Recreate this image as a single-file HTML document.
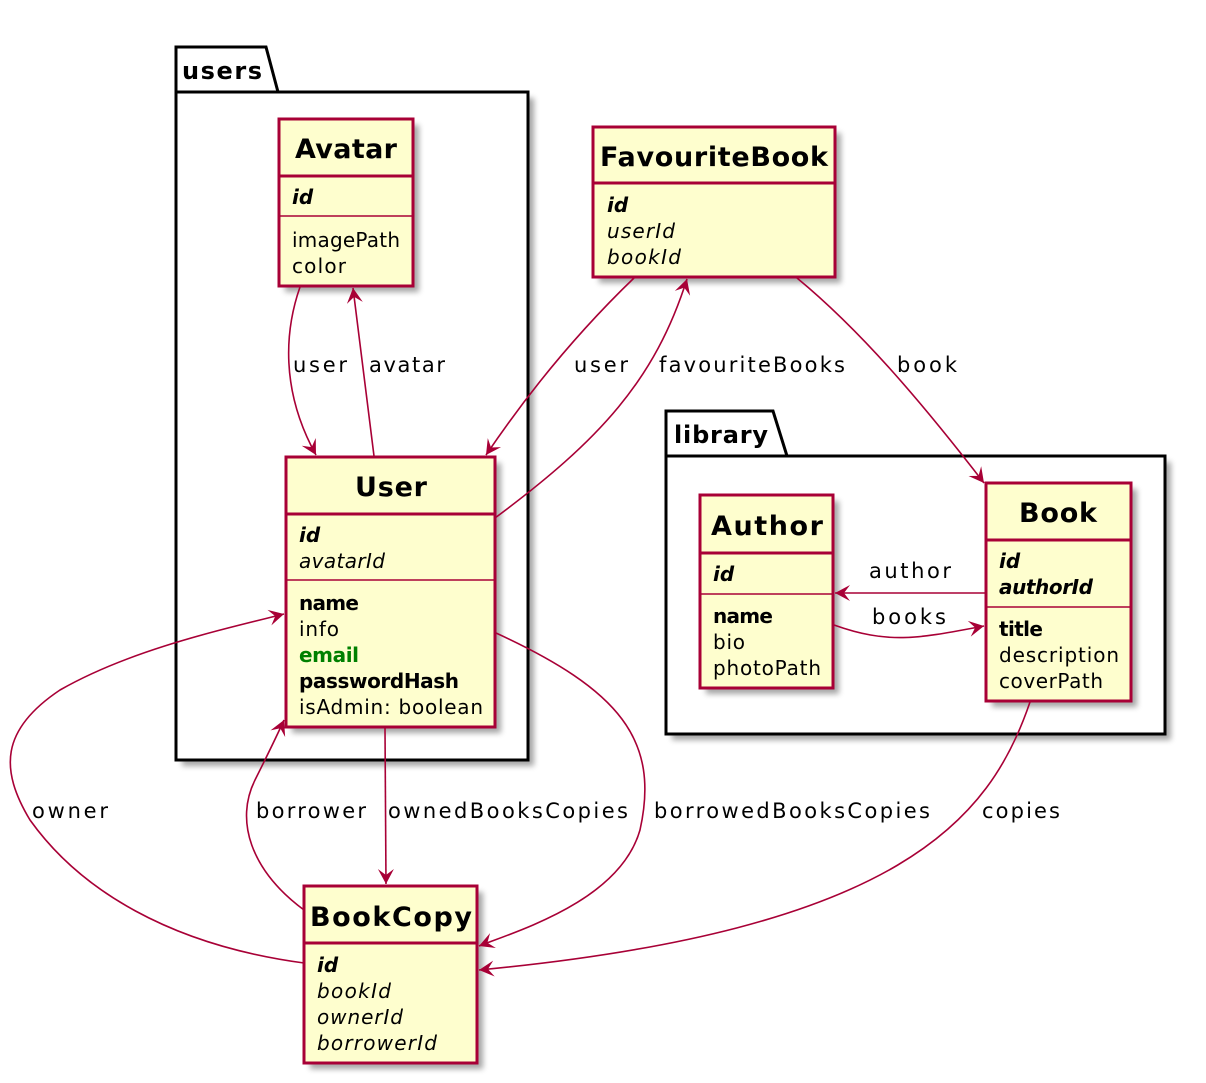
<!DOCTYPE html>
<html><head><meta charset="utf-8"><style>
html,body{margin:0;padding:0;background:#fff}
svg{display:block}
text{font-family:"DejaVu Sans","Liberation Sans",sans-serif;fill:#000}
.m{font-size:20px}
.t{font-size:27px;font-weight:bold}
.l{font-size:21px}
.c{fill:#FEFECE;stroke:#A80036;stroke-width:3}
.s{stroke:#A80036;stroke-width:1.5}
.e{fill:none;stroke:#A80036;stroke-width:1.6}
.p{fill:#fff;stroke:#000;stroke-width:3}
.sh{fill:#000;opacity:.35;filter:url(#b)}
</style></head><body>
<svg width="1206" height="1083" viewBox="0 0 1206 1083" xmlns="http://www.w3.org/2000/svg">
<defs>
<filter id="b" x="-10%" y="-10%" width="120%" height="120%"><feGaussianBlur stdDeviation="3"/></filter>
<marker id="a" viewBox="-16 -9 18 18" refX="0" refY="0" markerWidth="18" markerHeight="18" markerUnits="userSpaceOnUse" orient="auto">
<path d="M0,0 L-15,-8 L-9,0 L-15,8 Z" fill="#A80036"/>
</marker>
</defs>

<!-- package users -->
<rect class="sh" x="182" y="98" width="352" height="668"/>
<path class="p" d="M176,92 L176,47 L266,47 L278,92 L528,92 L528,760 L176,760 Z"/>
<line x1="176" y1="92" x2="278" y2="92" stroke="#000" stroke-width="3"/>
<text x="182" y="79" style="font-size:24px;font-weight:bold" textLength="80">users</text>

<!-- package library -->
<rect class="sh" x="672" y="462" width="499" height="278"/>
<path class="p" d="M666,456 L666,411 L773,411 L787,456 L1165,456 L1165,734 L666,734 Z"/>
<line x1="666" y1="456" x2="787" y2="456" stroke="#000" stroke-width="3"/>
<text x="674" y="443" style="font-size:24px;font-weight:bold" textLength="94">library</text>

<!-- Avatar -->
<rect class="sh" x="285" y="125" width="134" height="167"/>
<rect class="c" x="279" y="119" width="134" height="167"/>
<line class="s" x1="279" y1="176" x2="413" y2="176" style="stroke-width:3"/>
<line class="s" x1="279" y1="216" x2="413" y2="216"/>
<text class="t" x="346" y="158" text-anchor="middle" textLength="102">Avatar</text>
<text class="m" x="292" y="204" font-weight="bold" font-style="italic">id</text>
<text class="m" x="292" y="247" textLength="108">imagePath</text>
<text class="m" x="292" y="273" textLength="54">color</text>

<!-- FavouriteBook -->
<rect class="sh" x="599" y="133" width="242" height="150"/>
<rect class="c" x="593" y="127" width="242" height="150"/>
<line class="s" x1="593" y1="183" x2="835" y2="183" style="stroke-width:3"/>
<text class="t" x="714" y="166" text-anchor="middle" textLength="228">FavouriteBook</text>
<text class="m" x="607" y="212" font-weight="bold" font-style="italic">id</text>
<text class="m" x="607" y="238" font-style="italic" textLength="68">userId</text>
<text class="m" x="607" y="264" font-style="italic" textLength="74">bookId</text>

<!-- User -->
<rect class="sh" x="292" y="463" width="209" height="270"/>
<rect class="c" x="286" y="457" width="209" height="270"/>
<line class="s" x1="286" y1="514" x2="495" y2="514" style="stroke-width:3"/>
<line class="s" x1="286" y1="580" x2="495" y2="580"/>
<text class="t" x="391" y="496" text-anchor="middle" textLength="72">User</text>
<text class="m" x="299" y="542" font-weight="bold" font-style="italic">id</text>
<text class="m" x="299" y="568" font-style="italic" textLength="86">avatarId</text>
<text class="m" x="299" y="610" font-weight="bold" textLength="60">name</text>
<text class="m" x="299" y="636" textLength="40">info</text>
<text class="m" x="299" y="662" font-weight="bold" style="fill:#008000" textLength="60">email</text>
<text class="m" x="299" y="688" font-weight="bold" textLength="160">passwordHash</text>
<text class="m" x="299" y="714" textLength="184">isAdmin: boolean</text>

<!-- Author -->
<rect class="sh" x="706" y="501" width="133" height="193"/>
<rect class="c" x="700" y="495" width="133" height="193"/>
<line class="s" x1="700" y1="553" x2="833" y2="553" style="stroke-width:3"/>
<line class="s" x1="700" y1="594" x2="833" y2="594"/>
<text class="t" x="767" y="535" text-anchor="middle" textLength="112">Author</text>
<text class="m" x="713" y="581" font-weight="bold" font-style="italic">id</text>
<text class="m" x="713" y="623" font-weight="bold" textLength="60">name</text>
<text class="m" x="713" y="649" textLength="32">bio</text>
<text class="m" x="713" y="675" textLength="108">photoPath</text>

<!-- Book -->
<rect class="sh" x="992" y="489" width="145" height="218"/>
<rect class="c" x="986" y="483" width="145" height="218"/>
<line class="s" x1="986" y1="540" x2="1131" y2="540" style="stroke-width:3"/>
<line class="s" x1="986" y1="607" x2="1131" y2="607"/>
<text class="t" x="1058" y="522" text-anchor="middle" textLength="78">Book</text>
<text class="m" x="999" y="568" font-weight="bold" font-style="italic">id</text>
<text class="m" x="999" y="594" font-weight="bold" font-style="italic" textLength="94">authorId</text>
<text class="m" x="999" y="636" font-weight="bold" textLength="44">title</text>
<text class="m" x="999" y="662" textLength="120">description</text>
<text class="m" x="999" y="688" textLength="104">coverPath</text>

<!-- BookCopy -->
<rect class="sh" x="310" y="892" width="173" height="177"/>
<rect class="c" x="304" y="886" width="173" height="177"/>
<line class="s" x1="304" y1="943" x2="477" y2="943" style="stroke-width:3"/>
<text class="t" x="391" y="926" text-anchor="middle" textLength="162">BookCopy</text>
<text class="m" x="317" y="972" font-weight="bold" font-style="italic">id</text>
<text class="m" x="317" y="998" font-style="italic" textLength="74">bookId</text>
<text class="m" x="317" y="1024" font-style="italic" textLength="86">ownerId</text>
<text class="m" x="317" y="1050" font-style="italic" textLength="120">borrowerId</text>

<!-- edges -->
<path class="e" marker-end="url(#a)" d="M300,287 C285,330 280,390 316,455"/>
<text class="l" x="293" y="372" textLength="54">user</text>
<path class="e" marker-end="url(#a)" d="M374,456 L353,288"/>
<text class="l" x="369" y="372" textLength="76">avatar</text>

<path class="e" marker-end="url(#a)" d="M634,278 C580,330 530,390 486,455"/>
<text class="l" x="574" y="372" textLength="54">user</text>
<path class="e" marker-end="url(#a)" d="M495,518 C600,440 655,380 687,279"/>
<text class="l" x="659" y="372" textLength="186">favouriteBooks</text>

<path class="e" marker-end="url(#a)" d="M797,278 C860,330 920,400 984,483"/>
<text class="l" x="897" y="372" textLength="60">book</text>

<path class="e" marker-end="url(#a)" d="M985,593 L835,593"/>
<text class="l" x="869" y="578" textLength="82">author</text>
<path class="e" marker-end="url(#a)" d="M834,625 C890,645 920,638 984,626"/>
<text class="l" x="872" y="624" textLength="74">books</text>

<path class="e" marker-end="url(#a)" d="M1030,702 C990,820 900,930 479,970"/>
<text class="l" x="982" y="818" textLength="78">copies</text>

<path class="e" marker-end="url(#a)" d="M385,728 L386,884"/>
<text class="l" x="388" y="818" textLength="240">ownedBooksCopies</text>

<path class="e" marker-end="url(#a)" d="M496,633 C620,690 660,740 640,830 C620,900 520,930 479,946"/>
<text class="l" x="654" y="818" textLength="276">borrowedBooksCopies</text>

<path class="e" marker-end="url(#a)" d="M304,910 C250,870 235,820 255,780 C265,760 275,740 284,720"/>
<text class="l" x="256" y="818" textLength="110">borrower</text>

<path class="e" marker-end="url(#a)" d="M304,963 C170,945 80,890 30,820 C0,770 0,730 60,690 C130,650 220,630 284,614"/>
<text class="l" x="32" y="818" textLength="76">owner</text>
</svg>
</body></html>
